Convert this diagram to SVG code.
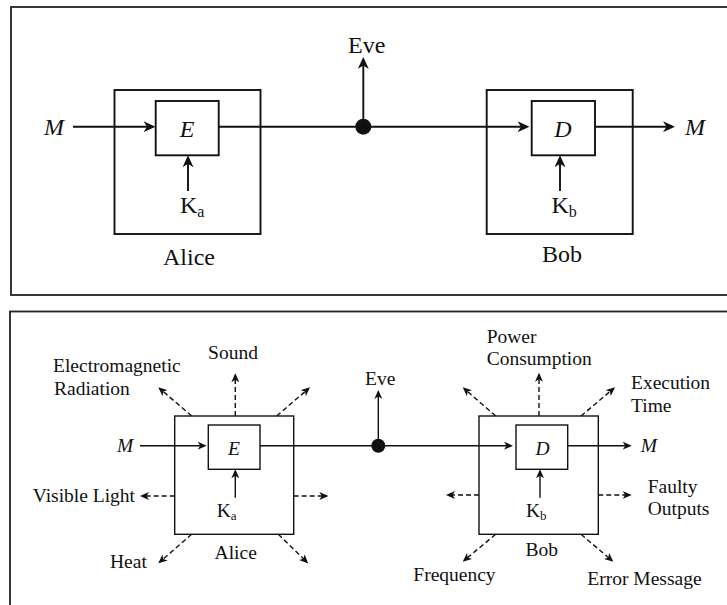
<svg xmlns="http://www.w3.org/2000/svg" width="727" height="605" viewBox="0 0 727 605">
<defs>
<style>
.panel{fill:#fff;stroke:#222;stroke-width:1.8}
.box1{fill:#fff;stroke:#111;stroke-width:1.9}
.box2{fill:#fff;stroke:#111;stroke-width:1.4}
.ln1{fill:none;stroke:#111;stroke-width:1.9}
.ln2{fill:none;stroke:#111;stroke-width:1.4}
.dash{fill:none;stroke:#111;stroke-width:1.4;stroke-dasharray:5 3}
.t1{font-family:"Liberation Serif","Times New Roman",serif;font-size:24px;fill:#111}
.t2{font-family:"Liberation Serif","Times New Roman",serif;font-size:19.5px;fill:#111}
.it{font-style:italic}
</style>
<marker id="a1" markerUnits="userSpaceOnUse" markerWidth="12" markerHeight="11" viewBox="0 0 12 11" refX="9" refY="5.5" orient="auto">
<path d="M0,0 L12,5.5 L0,11 L3.5,5.5 z" fill="#111"/>
</marker>
<marker id="a2" markerUnits="userSpaceOnUse" markerWidth="9" markerHeight="8" viewBox="0 0 9 8" refX="7" refY="4" orient="auto">
<path d="M0,0 L9,4 L0,8 L2.5,4 z" fill="#111"/>
</marker>
</defs>
<rect width="727" height="605" fill="#fff"/>

<!-- Top panel -->
<rect class="panel" x="11" y="7" width="730" height="288"/>
<g id="alice-top">
<rect class="box1" x="114.5" y="90" width="146" height="144"/>
<rect class="box1" x="155.7" y="101" width="63" height="54.3"/>
<text class="t1 it" x="187" y="137" text-anchor="middle">E</text>
<text class="t1" x="180" y="213">K<tspan font-size="16" dy="4">a</tspan></text>
<text class="t1" x="189" y="265" text-anchor="middle">Alice</text>
</g>
<g id="bob-top">
<rect class="box1" x="486.7" y="90" width="146" height="144"/>
<rect class="box1" x="531.7" y="101" width="63.3" height="54.3"/>
<text class="t1 it" x="563" y="137" text-anchor="middle">D</text>
<text class="t1" x="551.5" y="213">K<tspan font-size="16" dy="4">b</tspan></text>
<text class="t1" x="562" y="262" text-anchor="middle">Bob</text>
</g>
<g id="eve-top">
<circle cx="363.3" cy="126.7" r="8" fill="#111"/>
<text class="t1" x="348" y="53" font-size="23">Eve</text>
</g>
<g id="m-top">
<text class="t1 it" x="44" y="135">M</text>
<text class="t1 it" x="685" y="135">M</text>
</g>
<g id="connectors-top">
<line class="ln1" x1="73" y1="126.7" x2="152.5" y2="126.7" marker-end="url(#a1)"/>
<line class="ln1" x1="218.7" y1="126.7" x2="526.5" y2="126.7" marker-end="url(#a1)"/>
<line class="ln1" x1="595" y1="126.7" x2="672" y2="126.7" marker-end="url(#a1)"/>
<line class="ln1" x1="363.3" y1="126.7" x2="363.3" y2="60" marker-end="url(#a1)"/>
<line class="ln1" x1="188" y1="191" x2="188" y2="158.3" marker-end="url(#a1)"/>
<line class="ln1" x1="560" y1="191" x2="560" y2="158.3" marker-end="url(#a1)"/>
</g>

<!-- Bottom panel -->
<rect class="panel" x="10" y="311.5" width="730" height="310"/>
<g id="alice-bottom">
<rect class="box2" x="174.7" y="416" width="119" height="118.3"/>
<rect class="box2" x="208.3" y="425" width="51.7" height="44.3"/>
<text class="t2 it" x="234" y="455" text-anchor="middle">E</text>
<text class="t2" x="216.7" y="516.7">K<tspan font-size="13" dy="3.5">a</tspan></text>
<text class="t2" x="235.7" y="559" text-anchor="middle">Alice</text>
</g>
<g id="bob-bottom">
<rect class="box2" x="479" y="416" width="119.3" height="118.3"/>
<rect class="box2" x="516" y="425" width="51.7" height="44.3"/>
<text class="t2 it" x="542.6" y="455" text-anchor="middle">D</text>
<text class="t2" x="526" y="516.7">K<tspan font-size="13" dy="3.5">b</tspan></text>
<text class="t2" x="541.7" y="556" text-anchor="middle">Bob</text>
</g>
<g id="eve-bottom">
<circle cx="378.3" cy="445.7" r="7" fill="#111"/>
<text class="t2" x="365" y="385" font-size="20">Eve</text>
</g>
<g id="m-bottom">
<text class="t2 it" x="117" y="452">M</text>
<text class="t2 it" x="640.7" y="452">M</text>
</g>
<g id="leak-labels">
<text class="t2" x="53" y="371.7">Electromagnetic</text>
<text class="t2" x="54" y="395">Radiation</text>
<text class="t2" x="233" y="359.3" text-anchor="middle">Sound</text>
<text class="t2" x="135" y="501.7" text-anchor="end">Visible Light</text>
<text class="t2" x="110" y="568.3">Heat</text>
<text class="t2" x="486.7" y="343.3">Power</text>
<text class="t2" x="486.7" y="365">Consumption</text>
<text class="t2" x="631" y="389.3">Execution</text>
<text class="t2" x="631" y="411.7">Time</text>
<text class="t2" x="647.7" y="493.3">Faulty</text>
<text class="t2" x="647.7" y="515">Outputs</text>
<text class="t2" x="413.3" y="581">Frequency</text>
<text class="t2" x="587.3" y="585">Error Message</text>
</g>
<g id="connectors-bottom">
<line class="ln2" x1="140" y1="445.7" x2="204.7" y2="445.7" marker-end="url(#a2)"/>
<line class="ln2" x1="260" y1="445.7" x2="511" y2="445.7" marker-end="url(#a2)"/>
<line class="ln2" x1="567.7" y1="445.7" x2="629.7" y2="445.7" marker-end="url(#a2)"/>
<line class="ln2" x1="378.3" y1="445.7" x2="378.3" y2="392" marker-end="url(#a2)"/>
<line class="ln2" x1="235.3" y1="497.7" x2="235.3" y2="471.3" marker-end="url(#a2)"/>
<line class="ln2" x1="540" y1="497.7" x2="540" y2="471.3" marker-end="url(#a2)"/>
<!-- Alice leaks -->
<line class="dash" x1="191.7" y1="416" x2="159.8" y2="388.6" marker-end="url(#a2)"/>
<line class="dash" x1="235.3" y1="416" x2="235.3" y2="375.3" marker-end="url(#a2)"/>
<line class="dash" x1="276.7" y1="416" x2="308.5" y2="388.6" marker-end="url(#a2)"/>
<line class="dash" x1="174.7" y1="496" x2="142" y2="496" marker-end="url(#a2)"/>
<line class="dash" x1="293.7" y1="496" x2="326.3" y2="496" marker-end="url(#a2)"/>
<line class="dash" x1="191.7" y1="534.3" x2="159.8" y2="562" marker-end="url(#a2)"/>
<line class="dash" x1="278.3" y1="534.3" x2="306.8" y2="562" marker-end="url(#a2)"/>
<!-- Bob leaks -->
<line class="dash" x1="495.7" y1="416" x2="464.2" y2="388.6" marker-end="url(#a2)"/>
<line class="dash" x1="539" y1="416" x2="539" y2="374.7" marker-end="url(#a2)"/>
<line class="dash" x1="581" y1="416" x2="613.5" y2="388.6" marker-end="url(#a2)"/>
<line class="dash" x1="479" y1="495" x2="448" y2="495" marker-end="url(#a2)"/>
<line class="dash" x1="598.3" y1="495" x2="629.7" y2="495" marker-end="url(#a2)"/>
<line class="dash" x1="495.7" y1="534.3" x2="464.2" y2="560.4" marker-end="url(#a2)"/>
<line class="dash" x1="581" y1="534.3" x2="611.8" y2="560.4" marker-end="url(#a2)"/>
</g>
</svg>
